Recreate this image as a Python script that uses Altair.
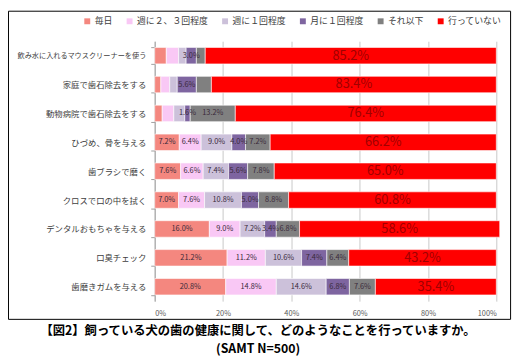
import altair as alt
import pandas as pd

categories = [
    "飲み水に入れるマウスクリーナーを使う",
    "家庭で歯石除去をする",
    "動物病院で歯石除去をする",
    "ひづめ、骨を与える",
    "歯ブラシで磨く",
    "クロスで口の中を拭く",
    "デンタルおもちゃを与える",
    "口臭チェック",
    "歯磨きガムを与える",
]
series = ["毎日", "週に２、３回程度", "週に１回程度", "月に１回程度", "それ以下", "行っていない"]
mainichi = [3.4, 1.8, 2.2, 7.2, 7.6, 7.0, 16.0, 21.2, 20.8]
shu23 = [3.6, 2.6, 3.4, 6.4, 6.6, 7.6, 9.0, 11.2, 14.8]
shu1 = [2.2, 2.2, 3.2, 9.0, 7.4, 10.8, 7.2, 10.6, 14.6]
tsuki1 = [3.0, 5.6, 1.6, 4.0, 5.6, 5.0, 3.4, 7.4, 6.8]
sore_ika = [2.6, 4.4, 13.2, 7.2, 7.8, 8.8, 6.8, 6.4, 7.6]
nashi = [85.2, 83.4, 76.4, 66.2, 65.0, 60.8, 58.6, 43.2, 35.4]
# labels that are not shown on the original (row index, series index)
hidden = [(0, 0), (0, 1), (0, 2), (0, 4), (1, 0), (1, 1), (1, 2), (1, 4), (2, 0), (2, 1), (2, 2)]
colors = ["#F4877F", "#F9C8F5", "#CCC1DA", "#7E65A0", "#808080", "#FF0000"]
x_ticks = [0, 10, 20, 30, 40, 50, 60, 70, 80, 90, 100]

title1 = "【図2】飼っている犬の歯の健康に関して、どのようなことを行っていますか。"
title2 = "(SAMT N=500)"

all_vals = [mainichi, shu23, shu1, tsuki1, sore_ika, nashi]
rows = []
for si, s in enumerate(series):
    for ci, c in enumerate(categories):
        rows.append({"cat": c, "series": s, "sidx": si, "value": all_vals[si][ci],
                     "show": (ci, si) not in hidden})
df = pd.DataFrame(rows)

FONT = "Noto Sans CJK JP"
W, H = 347, 264

base = alt.Chart(df).transform_stack(
    stack="value", groupby=["cat"], as_=["x0", "x1"], sort=[alt.SortField("sidx")]
).transform_calculate(
    mid="(datum.x0 + datum.x1) / 2",
    label="format(datum.value, '.1f') + '%'",
)

long_label = categories[0]
yenc = alt.Y("cat:N", sort=categories,
             scale=alt.Scale(paddingInner=0.43, paddingOuter=0.215),
             axis=alt.Axis(title=None,
                           labelFontSize={"condition": {"test": f"datum.value == '{long_label}'", "value": 7.3},
                                          "value": 8.5},
                           labelColor="#404040", labelFont=FONT,
                           tickBand="extent", tickSize=4, tickColor="#A0A0A0",
                           domainColor="#A0A0A0", labelPadding=5, grid=False))
xscale = alt.Scale(domain=[0, 100], nice=False)

bars = base.mark_bar(stroke="white", strokeWidth=0.6).encode(
    x=alt.X("x0:Q", scale=xscale,
            axis=alt.Axis(title=None, values=x_ticks, labelExpr="datum.value + '%'",
                          labelFontSize=7.5, labelColor="#595959", labelFont=FONT,
                          domain=False, ticks=False, grid=True, gridColor="#C8C8C8",
                          labelPadding=9)),
    x2="x1:Q",
    y=yenc,
    color=alt.Color("series:N", sort=series,
                    scale=alt.Scale(domain=series, range=colors),
                    legend=alt.Legend(title=None, orient="none", direction="horizontal",
                                      legendX=-73, legendY=-25, symbolType="square",
                                      symbolSize=36, symbolStrokeWidth=0,
                                      labelFontSize=9, labelFont=FONT, labelColor="#404040",
                                      columnPadding=12, labelOffset=3)),
    order=alt.Order("sidx:Q"),
)

small_text = base.transform_filter("datum.sidx < 5 && datum.show").mark_text(
    fontSize=7.5, font=FONT, color="#3A2A3A"
).encode(x=alt.X("mid:Q", scale=xscale), y=alt.Y("cat:N", sort=categories), text="label:N")

big_text = base.transform_filter("datum.sidx == 5").mark_text(
    fontSize=13, font=FONT, color="#A00000"
).encode(x=alt.X("mid:Q", scale=xscale), y=alt.Y("cat:N", sort=categories), text="label:N")

frame = alt.Chart(alt.Data(values=[{}])).mark_rect(filled=False, stroke="black", strokeWidth=1).encode(
    x=alt.value(-148.5), x2=alt.value(361.5), y=alt.value(-30.5), y2=alt.value(282.5)
)

t1 = alt.Chart(alt.Data(values=[{"t": title1}])).mark_text(
    fontSize=12.5, fontWeight="bold", font=FONT, color="black", baseline="middle"
).encode(x=alt.value(105), y=alt.value(294), text="t:N")
t2 = alt.Chart(alt.Data(values=[{"t": title2}])).mark_text(
    fontSize=12.5, fontWeight="bold", font=FONT, color="black", baseline="middle"
).encode(x=alt.value(105), y=alt.value(313), text="t:N")

chart = alt.layer(bars, small_text, big_text, frame, t1, t2).properties(
    width=W, height=H,
    autosize=alt.AutoSizeParams(type="none"),
    padding={"left": 149, "top": 31, "right": 20, "bottom": 55},
).configure_view(stroke=None)

chart.save("out.html", embed_options={"renderer": "svg", "actions": False})
